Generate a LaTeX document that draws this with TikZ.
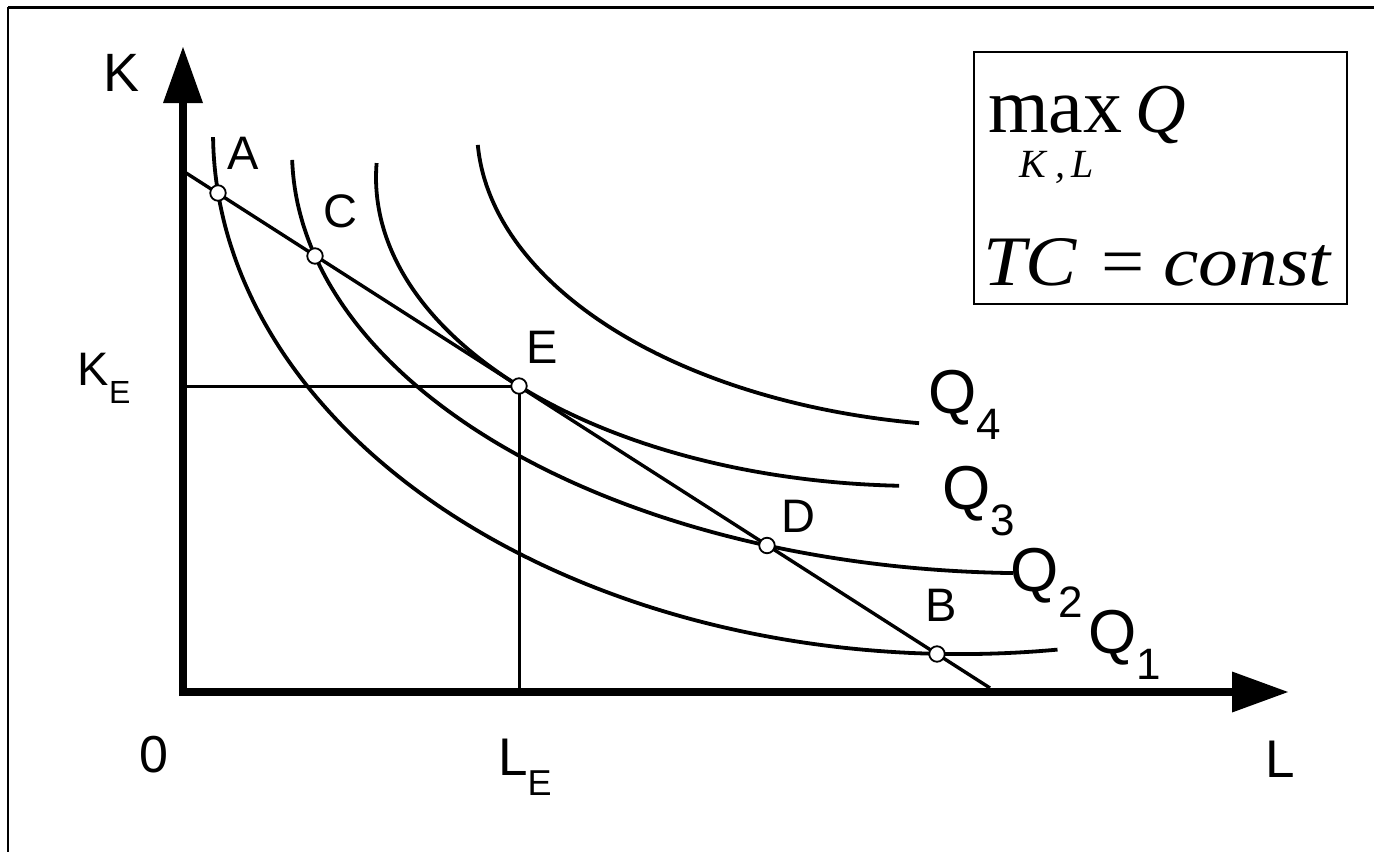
\documentclass[tikz,border=0pt]{standalone}
\usepackage{graphicx}
\usepackage{fontspec}
\setmainfont{Liberation Serif}
\newfontfamily\lsans{Liberation Sans}
\newcommand{\qsub}[1]{\raisebox{-26pt}{\fontsize{44}{44}\selectfont #1}}
\begin{document}
\begin{tikzpicture}[x=1pt,y=-1pt,
  curve/.style={line width=3.8pt},
  budget/.style={line width=3.4pt},
  guide/.style={line width=3pt},
  axisline/.style={line width=8pt},
  ptmark/.style={circle,draw,fill=white,line width=1.8pt,minimum size=15.5pt,inner sep=0pt},
  lbl/.style={inner sep=0pt,font=\lsans\fontsize{47}{47}\selectfont},
  axlbl/.style={inner sep=0pt,font=\lsans\fontsize{53}{53}\selectfont},
  qlbl/.style={inner sep=0pt,anchor=base west,font=\lsans\fontsize{62}{62}\selectfont},
  boxtxt/.style={inner sep=0pt,anchor=base west},
]
\useasboundingbox (0,0) rectangle (1374,852);
% frame
\draw[line width=3pt] (8,7) -- (1374,7);
\draw[line width=1.6pt] (8,7) -- (8,852);
% axes
\draw[axisline] (183,696) -- (183,100);
\fill (183,47) -- (163,103) -- (203,103) -- cycle;
\draw[axisline] (179,692) -- (1235,692);
\fill (1288,692) -- (1232,671.5) -- (1232,712.5) -- cycle;
% isoquants (elliptic arcs)
\draw[curve] plot[domain=0.5:97.5,samples=120] ({960-747*cos(\x)},{132.5+521.6*sin(\x)});
\draw[curve] plot[domain=1.15:88.7,samples=120] ({1030-738*cos(\x)},{151.5+421.7*sin(\x)});
\draw[curve] plot[domain=-2.7:87.8,samples=120] ({920-544*cos(\x)},{177.6+308.4*sin(\x)});
\draw[curve] plot[domain=3.1:81.1,samples=120] ({1000-523*cos(\x)},{128.8+298*sin(\x)});
% budget line
\coordinate (P0) at (183,171);
\coordinate (P1) at (990,688);
\draw[budget] (P0) -- (P1);
% guides to E
\coordinate (kaxis) at (183,386);
\coordinate (laxis) at (519,690);
\node[ptmark,draw=none,fill=none] (gE) at (519,386) {};
\draw[guide] (kaxis) -- (gE.center);
\draw[guide] (gE.center) -- (laxis);
% points
\node[ptmark] (pA) at (218,193) {};
\node[ptmark] (pC) at (315,256) {};
\node[ptmark] (pE) at (519,386) {};
\node[ptmark] (pD) at (767,545.5) {};
\node[ptmark] (pB) at (937,654) {};
% labels
\node[axlbl,font=\lsans\fontsize{54}{54}\selectfont] (lK) at (121.5,72.5) {K};
\node[lbl] (lA) at (243.5,153) {A};
\node[lbl] (lC) at (340,211.5) {C};
\node[lbl] (lE) at (542.5,347) {E};
\node[lbl] (lD) at (798,516.5) {D};
\node[lbl] (lB) at (941.5,605) {B};
\node[inner sep=0pt,anchor=base west,font=\lsans\fontsize{47}{47}\selectfont] (lKE) at (77.6,385) {K\raisebox{-18pt}{\fontsize{32}{32}\selectfont E}};
\node[inner sep=0pt,anchor=base west,font=\lsans\fontsize{53}{53}\selectfont] (lLE) at (498,775) {L\raisebox{-20pt}{\fontsize{36}{36}\selectfont E}};
\node[axlbl,font=\lsans\fontsize{52}{52}\selectfont] (l0) at (153.5,754.5) {0};
\node[axlbl] (lL) at (1280.5,759) {L};
\node[qlbl] (q4) at (928.5,413.5) {Q\qsub{4}};
\node[qlbl] (q3) at (942.5,509.5) {Q\qsub{3}};
\node[qlbl] (q2) at (1010.5,591) {Q\qsub{2}};
\node[qlbl] (q1) at (1088.5,653.5) {Q\qsub{1}};
% box
\draw[line width=1.5pt] (974,52) rectangle (1347,304);
\node[boxtxt,font=\fontsize{78}{78}\selectfont] (tmax) at (988,132) {max};
\node[boxtxt,font=\itshape\fontsize{70}{70}\selectfont] (tQ) at (1135,132) {Q};
\node[inner sep=0pt,anchor=base,font=\itshape\fontsize{40}{40}\selectfont] (tKL) at (1056.5,177) {K\hspace{9pt},\hspace{6pt}L};
\node[boxtxt,font=\itshape\fontsize{71}{71}\selectfont] (tTC) at (983,285) {\scalebox{1.08}[1]{TC}};
\node[boxtxt,font=\fontsize{71}{71}\selectfont] (teq) at (1101,285) {\scalebox{1.08}[1]{=}};
\node[boxtxt,font=\itshape\fontsize{71}{71}\selectfont] (tconst) at (1163,285) {\scalebox{1.12}[1]{const}};
\end{tikzpicture}
\end{document}
